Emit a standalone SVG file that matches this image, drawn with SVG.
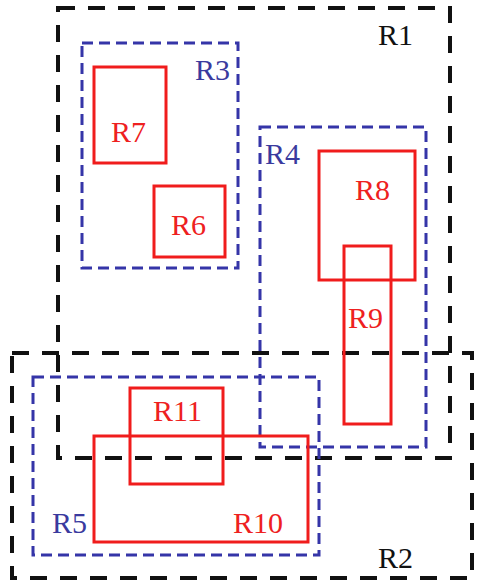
<svg xmlns="http://www.w3.org/2000/svg" width="481" height="585" viewBox="0 0 481 585">
<style>
.blk{fill:none;stroke:#111;stroke-width:4;stroke-dasharray:17 13}
.blu{fill:none;stroke:#3535a8;stroke-width:3;stroke-dasharray:11 6}
.red{fill:none;stroke:#f01c1c;stroke-width:3}
text{font-family:"Liberation Serif","Times New Roman",serif;font-size:30px}
.tb{fill:#111}.tu{fill:#3a3a9e}.tr{fill:#ee2020}
</style>
<rect x="0" y="0" width="481" height="585" fill="#fff"/>
<g id="R1"><rect class="blk" x="58" y="8" width="392" height="450"/><text class="tb" x="378" y="45">R1</text></g>
<g id="R2"><rect class="blk" x="12" y="353" width="460" height="225"/><text class="tb" x="378" y="568">R2</text></g>
<g id="R3"><rect class="blu" x="82" y="43" width="156" height="225"/><text class="tu" x="195" y="80">R3</text></g>
<g id="R4"><rect class="blu" x="260" y="127" width="166" height="320"/><text class="tu" x="265" y="164">R4</text></g>
<g id="R5"><rect class="blu" x="33" y="377" width="286" height="178"/><text class="tu" x="52" y="533">R5</text></g>
<g id="R7"><rect class="red" x="94" y="67" width="72" height="96"/><text class="tr" x="111" y="142">R7</text></g>
<g id="R6"><rect class="red" x="154" y="186" width="71" height="71"/><text class="tr" x="171" y="235">R6</text></g>
<g id="R8"><rect class="red" x="319" y="151" width="96" height="129"/><text class="tr" x="355" y="200">R8</text></g>
<g id="R9"><rect class="red" x="344" y="246" width="47" height="178"/><text class="tr" x="348" y="328">R9</text></g>
<g id="R11"><rect class="red" x="130" y="388" width="93" height="96"/><text class="tr" x="153" y="421">R11</text></g>
<g id="R10"><rect class="red" x="94" y="436" width="214" height="106"/><text class="tr" x="233" y="533">R10</text></g>
<g id="connectors"></g>
</svg>
